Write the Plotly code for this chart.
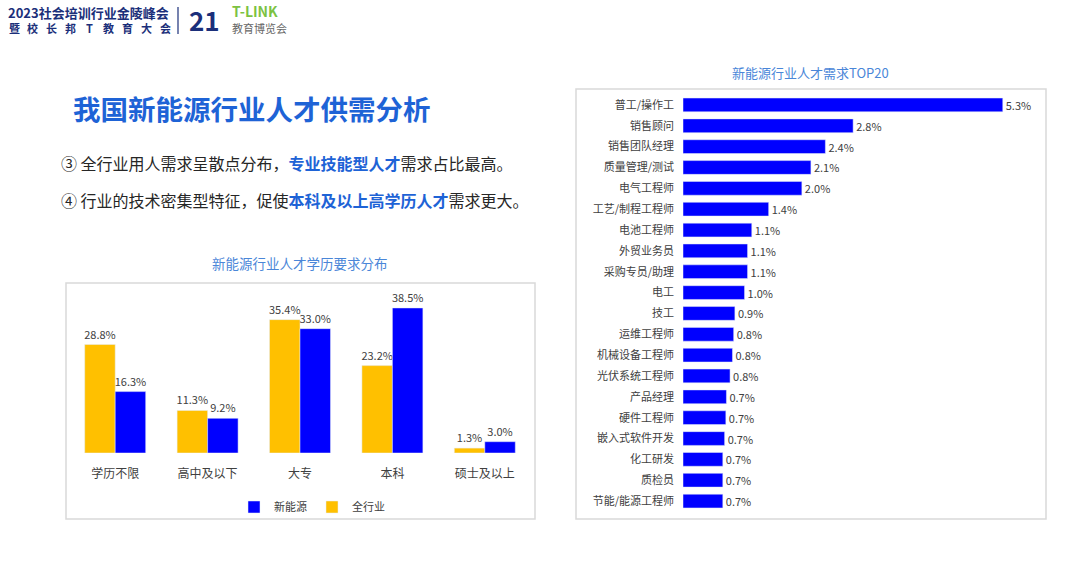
import plotly.graph_objects as go

# left chart: education requirement
edu_levels = ["学历不限", "高中及以下", "大专", "本科", "硕士及以上"]
all_industry = [28.8, 11.3, 35.4, 23.2, 1.3]
new_energy = [16.3, 9.2, 33.0, 38.5, 3.0]

# right chart: top 20 jobs
jobs = ["普工/操作工", "销售顾问", "销售团队经理", "质量管理/测试", "电气工程师",
        "工艺/制程工程师", "电池工程师", "外贸业务员", "采购专员/助理", "电工",
        "技工", "运维工程师", "机械设备工程师", "光伏系统工程师", "产品经理",
        "硬件工程师", "嵌入式软件开发", "化工研发", "质检员", "节能/能源工程师"]
job_share = [5.3, 2.82, 2.36, 2.12, 1.97, 1.42, 1.14, 1.07, 1.07, 1.02,
             0.86, 0.84, 0.82, 0.78, 0.72, 0.71, 0.69, 0.66, 0.66, 0.66]

FONT = "Noto Sans CJK SC"
BLUE = "#0000FF"
YELLOW = "#FFC000"
TXT = "#404040"
TITLE_BLUE = "#4A86D8"

fig = go.Figure()

fig.add_trace(go.Bar(
    x=edu_levels, y=all_industry, name="全行业", marker_color=YELLOW,
    text=[f"{v:.1f}%" for v in all_industry], textposition="outside",
    textfont=dict(size=11, color=TXT), cliponaxis=False, constraintext="none",
    xaxis="x", yaxis="y"))
fig.add_trace(go.Bar(
    x=edu_levels, y=new_energy, name="新能源", marker_color=BLUE,
    text=[f"{v:.1f}%" for v in new_energy], textposition="outside",
    textfont=dict(size=11, color=TXT), cliponaxis=False, constraintext="none",
    xaxis="x", yaxis="y"))

fig.add_trace(go.Bar(
    x=job_share, y=jobs, orientation="h", marker_color=BLUE,
    texttemplate="%{x:.1f}%", textposition="outside",
    textfont=dict(size=11, color=TXT), cliponaxis=False, constraintext="none",
    showlegend=False, xaxis="x2", yaxis="y2"))

W, H = 1080, 576
px_x = lambda v: v / W
px_y = lambda v: 1 - v / H

fig.update_layout(
    width=W, height=H, margin=dict(l=0, r=0, t=0, b=0),
    paper_bgcolor="white", plot_bgcolor="white",
    font=dict(family=FONT, color=TXT),
    barmode="group", bargap=0.34, bargroupgap=0,
    xaxis=dict(domain=[px_x(69), px_x(531)], anchor="y", showgrid=False,
               showline=False, ticks="", ticklabelstandoff=12,
               tickfont=dict(size=12, color=TXT)),
    yaxis=dict(domain=[px_y(453), px_y(291)], anchor="x", range=[0, 43],
               visible=False),
    xaxis2=dict(domain=[px_x(683), px_x(1045)], anchor="y2", range=[0, 6],
                visible=False),
    yaxis2=dict(domain=[px_y(511.5), px_y(94.5)], anchor="x2",
                autorange="reversed", showgrid=False, ticks="",
                ticklabelstandoff=8, tickfont=dict(size=11, color=TXT)),
    legend=dict(orientation="h", x=px_x(312), xanchor="center",
                y=px_y(507), yanchor="middle", traceorder="reversed",
                font=dict(size=11, color=TXT), bgcolor="rgba(0,0,0,0)",
                itemwidth=30, tracegroupgap=0),
)

# chart frames
fig.add_shape(type="rect", xref="paper", yref="paper",
              x0=px_x(66), x1=px_x(535), y0=px_y(519), y1=px_y(283),
              line=dict(color="#D9D9D9", width=1.5))
fig.add_shape(type="rect", xref="paper", yref="paper",
              x0=px_x(576), x1=px_x(1046), y0=px_y(519), y1=px_y(89),
              line=dict(color="#D9D9D9", width=1.5))

def note(x, y, text, size, color, anchor="left", bold=False):
    if bold:
        text = f"<b>{text}</b>"
    fig.add_annotation(xref="paper", yref="paper", x=px_x(x), y=px_y(y),
                       text=text, showarrow=False, xanchor=anchor,
                       yanchor="middle", borderpad=0,
                       font=dict(family=FONT, size=size, color=color))

# chart titles
note(300, 263, "新能源行业人才学历要求分布", 13.5, TITLE_BLUE, "center")
note(810, 72, "新能源行业人才需求TOP20", 13, TITLE_BLUE, "center")

# header logo texts
NAVY = "#1B2F7A"
note(7, 13, "2023社会培训行业金陵峰会", 13, NAVY, bold=True)
for i, ch in enumerate("暨校长邦T教育大会"):
    note(14 + i * 18.9, 28, ch, 11, NAVY, "center", bold=True)
fig.add_shape(type="line", xref="paper", yref="paper",
              x0=px_x(178), x1=px_x(178), y0=px_y(7), y1=px_y(34),
              line=dict(color=NAVY, width=1.2))
note(188, 20, "21", 26, NAVY, bold=True)
note(231, 11, "T-LINK", 14, "#7CC242", bold=True)
note(231, 28, "教育博览会", 11, "#666666")

# slide title and bullets
HL = "#1E63D6"
note(72, 108, "我国新能源行业人才供需分析", 27.5, HL, bold=True)
note(60, 163, "③ 全行业用人需求呈散点分布，"
     f"<b><span style='color:{HL}'>专业技能型人才</span></b>需求占比最高。",
     16, "#262626")
note(60, 200, "④ 行业的技术密集型特征，促使"
     f"<b><span style='color:{HL}'>本科及以上高学历人才</span></b>需求更大。",
     16, "#262626")

# drop the default 8px page margin so the slide fills the window exactly
fig.write_html("out.html", config={"displayModeBar": False},
               post_script="document.body.style.margin='0';")
